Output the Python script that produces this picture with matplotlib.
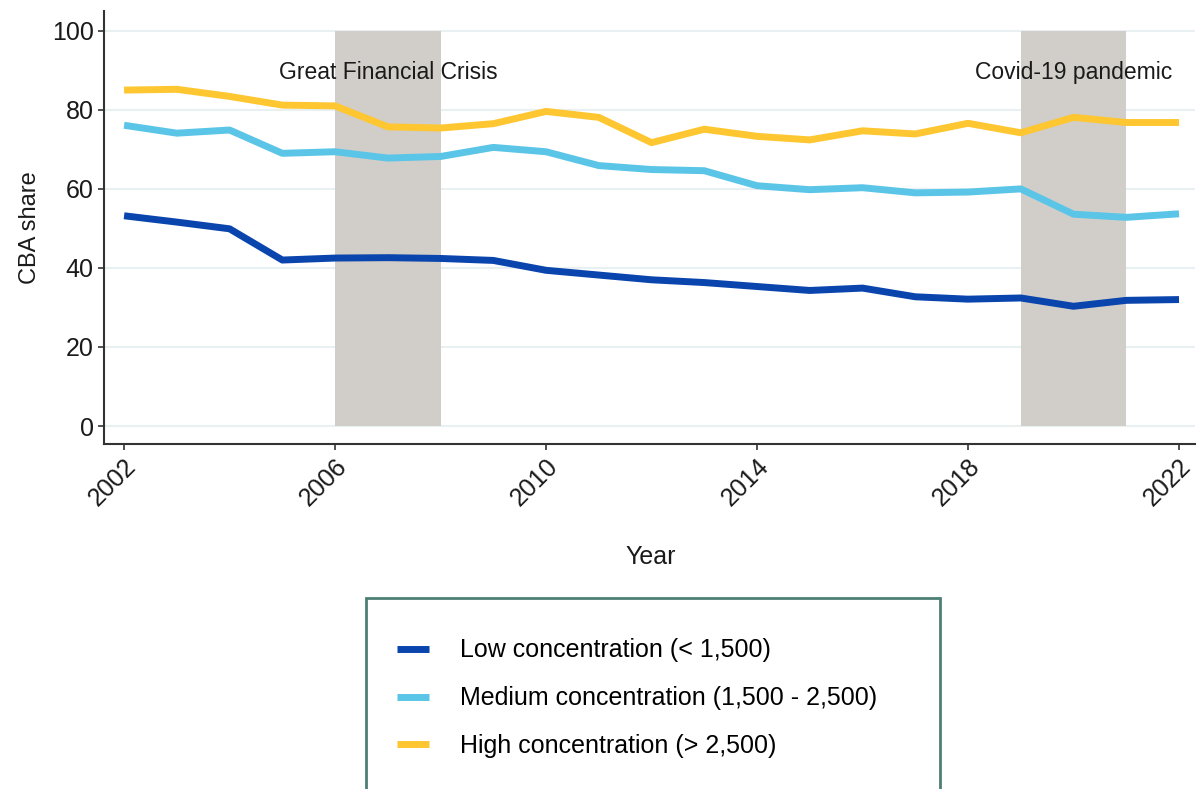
import numpy as np
import matplotlib
matplotlib.use('Agg')
import matplotlib.pyplot as plt
from matplotlib.patches import Rectangle

plt.rcParams['font.family'] = ['Liberation Sans', 'DejaVu Sans']

years = list(range(2002, 2023))
low = [53.2, 51.6, 49.9, 42.0, 42.5, 42.6, 42.4, 41.9, 39.4, 38.2, 37.0,
       36.3, 35.3, 34.3, 34.9, 32.7, 32.1, 32.4, 30.3, 31.8, 32.0]
medium = [76.1, 74.1, 74.9, 69.0, 69.4, 67.8, 68.2, 70.5, 69.4, 65.9, 64.9,
          64.6, 60.8, 59.8, 60.3, 59.0, 59.2, 60.0, 53.6, 52.8, 53.7]
high = [85.0, 85.2, 83.4, 81.2, 81.0, 75.7, 75.4, 76.5, 79.6, 78.1, 71.7,
        75.1, 73.3, 72.4, 74.7, 73.9, 76.6, 74.2, 78.1, 76.8, 76.8]

labels = ['Low concentration (< 1,500)',
          'Medium concentration (1,500 - 2,500)',
          'High concentration (> 2,500)']
colors = ['#0a44ad', '#5bc5e8', '#fec630']

crises = [(2006, 2008, 'Great Financial Crisis', 2007),
          (2019, 2021, 'Covid-19 pandemic', 2020)]
xticks = [2002, 2006, 2010, 2014, 2018, 2022]
yticks = [0, 20, 40, 60, 80, 100]

fig = plt.figure(figsize=(12, 7.89), dpi=100)
ax = fig.add_axes([0.0867, 0.437, 0.909, 0.549])

for start, end, name, mid in crises:
    ax.fill_between([start, end], 0, 100, color='#d1cec9', lw=0, zorder=1)
    ax.text(mid, 89.5, name, ha='center', va='center', fontsize=16.5, color='#1a1a1a', zorder=4)

for series, lab, col in zip([low, medium, high], labels, colors):
    ax.plot(years, series, color=col, lw=5, label=lab, zorder=3, solid_capstyle='butt')

ax.set_xlim(2001.62, 2022.3)
ax.set_ylim(-4.6, 105)
ax.set_yticks(yticks)
ax.set_xticks(xticks)
ax.set_xticklabels([str(x) for x in xticks], rotation=45, ha='right', rotation_mode='anchor')
ax.tick_params(axis='both', labelsize=18, length=4, width=1.2, color='#333333', labelcolor='#1a1a1a')
ax.grid(axis='y', color='#e9f0f2', lw=1.5, zorder=0)
ax.set_axisbelow(True)
for s in ['top', 'right']:
    ax.spines[s].set_visible(False)
for s in ['left', 'bottom']:
    ax.spines[s].set_linewidth(1.5)
    ax.spines[s].set_color('#333333')

ax.set_ylabel('CBA share', fontsize=17, color='#1a1a1a', labelpad=8)
fig.text(651 / 1200, 1 - 557 / 789, 'Year', fontsize=18, ha='center', va='center', color='#1a1a1a')

# legend box
fig.patches.append(Rectangle((366 / 1200, -0.02), 574 / 1200, 1 - 598 / 789 + 0.02,
                             transform=fig.transFigure, fill=False, edgecolor='#4d7f76', lw=2))
handles, labs = ax.get_legend_handles_labels()
fig.legend(handles, labs, loc='upper left', bbox_to_anchor=(374 / 1200, 1 - 616 / 789),
           frameon=False, fontsize=18, handlelength=1.3, handletextpad=1.25, labelspacing=0.95)

fig.savefig('out.png', dpi=100)
